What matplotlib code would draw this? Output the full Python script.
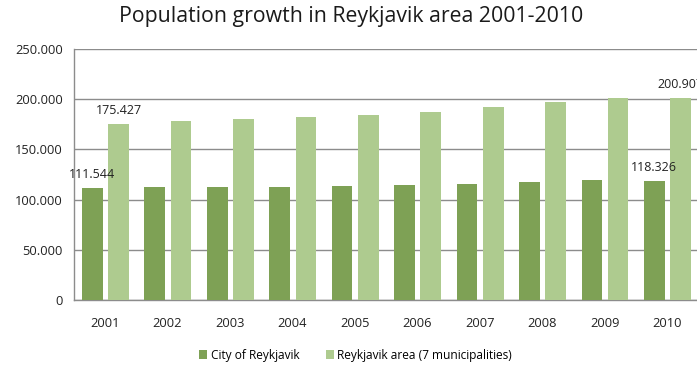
import matplotlib
matplotlib.use("Agg")
import matplotlib.pyplot as plt
from matplotlib.ticker import FuncFormatter
import numpy as np

plt.rcParams['font.family'] = ['Open Sans', 'DejaVu Sans']

# population data per year
years = ['2001', '2002', '2003', '2004', '2005', '2006', '2007', '2008', '2009', '2010']
city = [111544, 112276, 112490, 112900, 113500, 114500, 116100, 118100, 119500, 118326]
area = [175427, 178000, 180000, 182000, 184700, 187400, 192000, 197700, 201400, 200907]
series_names = ['City of Reykjavik', 'Reykjavik area (7 municipalities)']

dark = '#7ea155'
light = '#aecb8f'

def dotted(v, pos=None):
    return '{:,.0f}'.format(v).replace(',', '.')

fig = plt.figure(figsize=(6.97, 3.66), dpi=100)
ax = fig.add_axes([0.106, 0.18, 0.896, 0.686])

x = np.arange(len(years))
w = 0.33
b1 = ax.bar(x - 0.205, city, w, color=dark, label=series_names[0], zorder=3)
b2 = ax.bar(x + 0.215, area, w, color=light, label=series_names[1], zorder=3)

ax.set_xlim(-0.5, len(years) - 0.5)
ax.set_ylim(0, 250000)
ax.set_yticks(range(0, 250001, 50000))
ax.yaxis.set_major_formatter(FuncFormatter(dotted))
ax.set_xticks(x)
ax.set_xticklabels(years)
ax.tick_params(axis='both', length=0, labelsize=9.3, colors='#222222')
ax.tick_params(axis='y', pad=8)
ax.tick_params(axis='x', pad=12)

ax.grid(axis='y', color='#8c8c8c', linewidth=1.0, zorder=0)
for s in ['top', 'right']:
    ax.spines[s].set_visible(False)
for s in ['left', 'bottom']:
    ax.spines[s].set_color('#8c8c8c')
    ax.spines[s].set_linewidth(1.0)

# value labels on the first and last year only
for bars, vals in [(b1, city), (b2, area)]:
    for i in (0, len(years) - 1):
        r = bars[i]
        ax.annotate(dotted(vals[i]), (r.get_x() + r.get_width() / 2, vals[i]),
                    xytext=(0, 5), textcoords='offset points',
                    ha='center', va='bottom', fontsize=9, color='#222222')

fig.text(0.504, 0.955, 'Population growth in Reykjavik area 2001-2010',
         ha='center', va='center', fontsize=15.3, color='#1a1a1a')

fig.legend(loc='center', bbox_to_anchor=(0.51, 0.03), ncol=2, frameon=False,
           fontsize=8.6, handlelength=0.7, handleheight=0.7, handletextpad=0.3,
           columnspacing=2.2)

fig.savefig('out.png', dpi=100)
